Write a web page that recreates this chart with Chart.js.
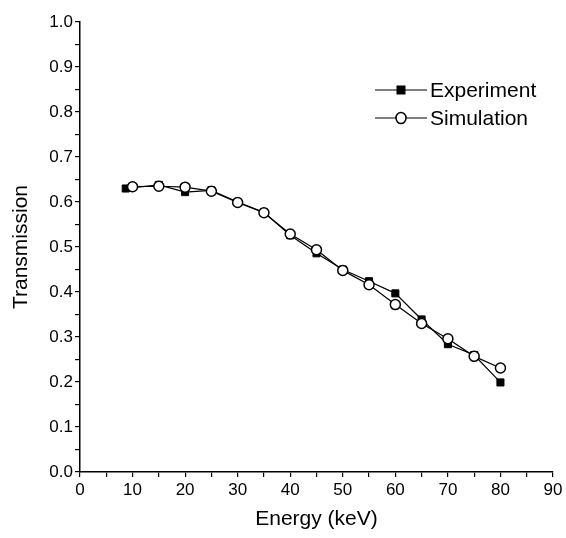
<!DOCTYPE html>
<html>
<head>
<meta charset="utf-8">
<script src="https://cdn.jsdelivr.net/npm/chart.js@4"></script>
<style>
  body { margin: 0; background: #fff; }
  #wrap { width: 566px; height: 538px; }
</style>
</head>
<body>
<div id="wrap"><canvas id="myChart" width="566" height="538"></canvas></div>
<script>
const expX = [8.7, 15, 20, 25, 30, 35, 40, 45, 50, 55, 60, 65, 70, 75, 80]
const expY = [0.630, 0.638, 0.622, 0.626, 0.600, 0.577, 0.526, 0.486, 0.450, 0.424, 0.397, 0.339, 0.284, 0.260, 0.199]
const simX = [10, 15, 20, 25, 30, 35, 40, 45, 50, 55, 60, 65, 70, 75, 80]
const simY = [0.634, 0.635, 0.633, 0.624, 0.599, 0.576, 0.529, 0.494, 0.448, 0.416, 0.372, 0.330, 0.296, 0.257, 0.231]
const seriesNames = ['Experiment', 'Simulation']

const FONT = "'Liberation Sans', Arial, sans-serif"
const ctx = document.getElementById('myChart')

// legend drawn inside the plot, top right
const insideLegend = {
  id: 'insideLegend',
  afterDraw(chart) {
    const c = chart.ctx
    const x0 = 375, x1 = 427, rows = [90, 118]
    chart.data.datasets.forEach((ds, i) => {
      const y = rows[i]
      const xm = (x0 + x1) / 2
      c.save()
      c.strokeStyle = '#000'
      c.lineWidth = 1.2
      c.beginPath()
      c.moveTo(x0, y)
      c.lineTo(x1, y)
      c.stroke()
      if (ds.pointStyle === 'rect') {
        c.fillStyle = '#000'
        c.fillRect(xm - 4.5, y - 4.5, 9, 9)
      } else {
        c.fillStyle = '#fff'
        c.lineWidth = 1.5
        c.beginPath()
        c.ellipse(xm, y, 5, 5.5, 0, 0, Math.PI * 2)
        c.fill()
        c.stroke()
      }
      c.fillStyle = '#000'
      c.font = '21px ' + FONT
      c.textBaseline = 'middle'
      c.fillText(ds.label, x1 + 3, y + 1)
      c.restore()
    })
  }
}

const myChart = new Chart(ctx, {
  type: 'line',
  data: {
    datasets: [{
      label: seriesNames[0],
      data: expX.map((x, i) => ({ x: x, y: expY[i] })),
      borderColor: '#000',
      borderWidth: 1.2,
      pointStyle: 'rect',
      pointRadius: 5,
      pointBackgroundColor: '#000',
      pointBorderColor: '#000',
      pointBorderWidth: 1,
      order: 1
    }, {
      label: seriesNames[1],
      data: simX.map((x, i) => ({ x: x, y: simY[i] })),
      borderColor: '#000',
      borderWidth: 1.2,
      pointStyle: 'circle',
      pointRadius: 5,
      pointBackgroundColor: '#fff',
      pointBorderColor: '#000',
      pointBorderWidth: 1.5,
      order: 0
    }]
  },
  options: {
    responsive: false,
    animation: false,
    layout: { padding: { left: 0, right: 13, top: 22, bottom: 0 } },
    plugins: {
      legend: { display: false },
      tooltip: { enabled: false }
    },
    scales: {
      x: {
        type: 'linear',
        min: 0,
        max: 90,
        afterFit: (scale) => { scale.height = 66 },
        border: { color: '#000', width: 1.5 },
        grid: { drawOnChartArea: false, color: '#000', tickLength: 5, lineWidth: 1.2 },
        ticks: {
          stepSize: 5,
          autoSkip: false,
          maxRotation: 0,
          padding: 3,
          color: '#000',
          font: { family: FONT, size: 17 },
          callback: (v) => (v % 10 === 0 ? v : '')
        },
        title: {
          display: true,
          text: 'Energy (keV)',
          color: '#000',
          font: { family: FONT, size: 21 },
          padding: { top: 0, bottom: 6 }
        }
      },
      y: {
        min: 0,
        max: 1,
        afterFit: (scale) => { scale.width = 80 },
        border: { color: '#000', width: 1.5 },
        grid: { drawOnChartArea: false, color: '#000', tickLength: 5, lineWidth: 1.2 },
        ticks: {
          stepSize: 0.05,
          autoSkip: false,
          padding: 2,
          color: '#000',
          font: { family: FONT, size: 17 },
          callback: (v) => (Math.round(v * 100) % 10 === 0 ? v.toFixed(1) : '')
        },
        title: {
          display: true,
          text: 'Transmission',
          color: '#000',
          font: { family: FONT, size: 21 },
          padding: { top: 9, bottom: 0 }
        }
      }
    }
  },
  plugins: [insideLegend]
})
</script>
</body>
</html>
